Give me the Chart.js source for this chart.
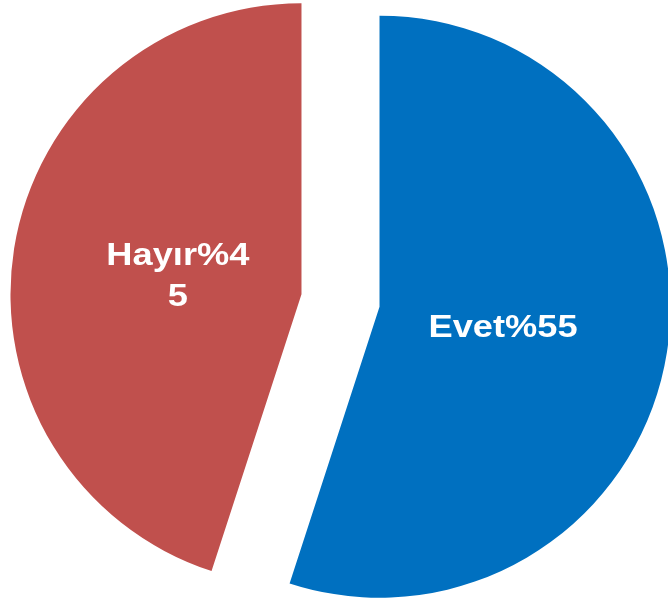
<!DOCTYPE html>
<html>
<head>
<meta charset="utf-8">
<script src="https://cdn.jsdelivr.net/npm/chart.js@4/dist/chart.umd.min.js"></script>
<style>
  html, body { margin: 0; padding: 0; background: #ffffff; }
  #wrap { width: 668px; height: 601px; position: relative; }
</style>
</head>
<body>
<div id="wrap"><canvas id="c" width="668" height="601"></canvas></div>
<script>
// ---- data ----
const categories = ['Evet', 'Hayır'];
const values = [55, 45];
const sliceLabelLines = [['Evet%55'], ['Hayır%4', '5']];
const sliceColors = ['#0070C0', '#C0504D'];

// explode each slice outward along its bisector (pixels)
const explodePx = 39.5;

const explodePlugin = {
  id: 'explode',
  afterDatasetUpdate(chart, args) {
    const meta = chart.getDatasetMeta(args.index);
    meta.data.forEach(arc => {
      const mid = (arc.startAngle + arc.endAngle) / 2;
      arc.x += Math.cos(mid) * explodePx;
      arc.y += Math.sin(mid) * explodePx;
    });
  }
};

const labelPlugin = {
  id: 'sliceLabels',
  afterDatasetsDraw(chart) {
    const meta = chart.getDatasetMeta(0);
    const ctx = chart.ctx;
    meta.data.forEach((arc, i) => {
      const mid = (arc.startAngle + arc.endAngle) / 2;
      const dist = arc.outerRadius * 0.43;
      const px = arc.x + Math.cos(mid) * dist;
      const py = arc.y + Math.sin(mid) * dist;
      const lines = sliceLabelLines[i];
      ctx.save();
      ctx.translate(px, py);
      ctx.scale(1.17, 1);
      ctx.fillStyle = '#ffffff';
      ctx.font = 'bold 31px "Liberation Sans", Arial, sans-serif';
      ctx.textAlign = 'center';
      ctx.textBaseline = 'alphabetic';
      const lh = 40.5;
      lines.forEach((t, k) => {
        const yy = (k - (lines.length - 1) / 2) * lh + 11;
        ctx.fillText(t, 0, yy);
      });
      ctx.restore();
    });
  }
};

new Chart(document.getElementById('c'), {
  type: 'pie',
  data: {
    labels: categories,
    datasets: [{
      data: values,
      backgroundColor: sliceColors,
      borderWidth: 0,
      hoverOffset: 0
    }]
  },
  options: {
    responsive: false,
    animation: false,
    radius: 291,
    layout: { padding: { left: 13, right: 0, top: 0, bottom: 0 } },
    plugins: {
      legend: { display: false },
      tooltip: { enabled: false }
    }
  },
  plugins: [explodePlugin, labelPlugin]
});
</script>
</body>
</html>
